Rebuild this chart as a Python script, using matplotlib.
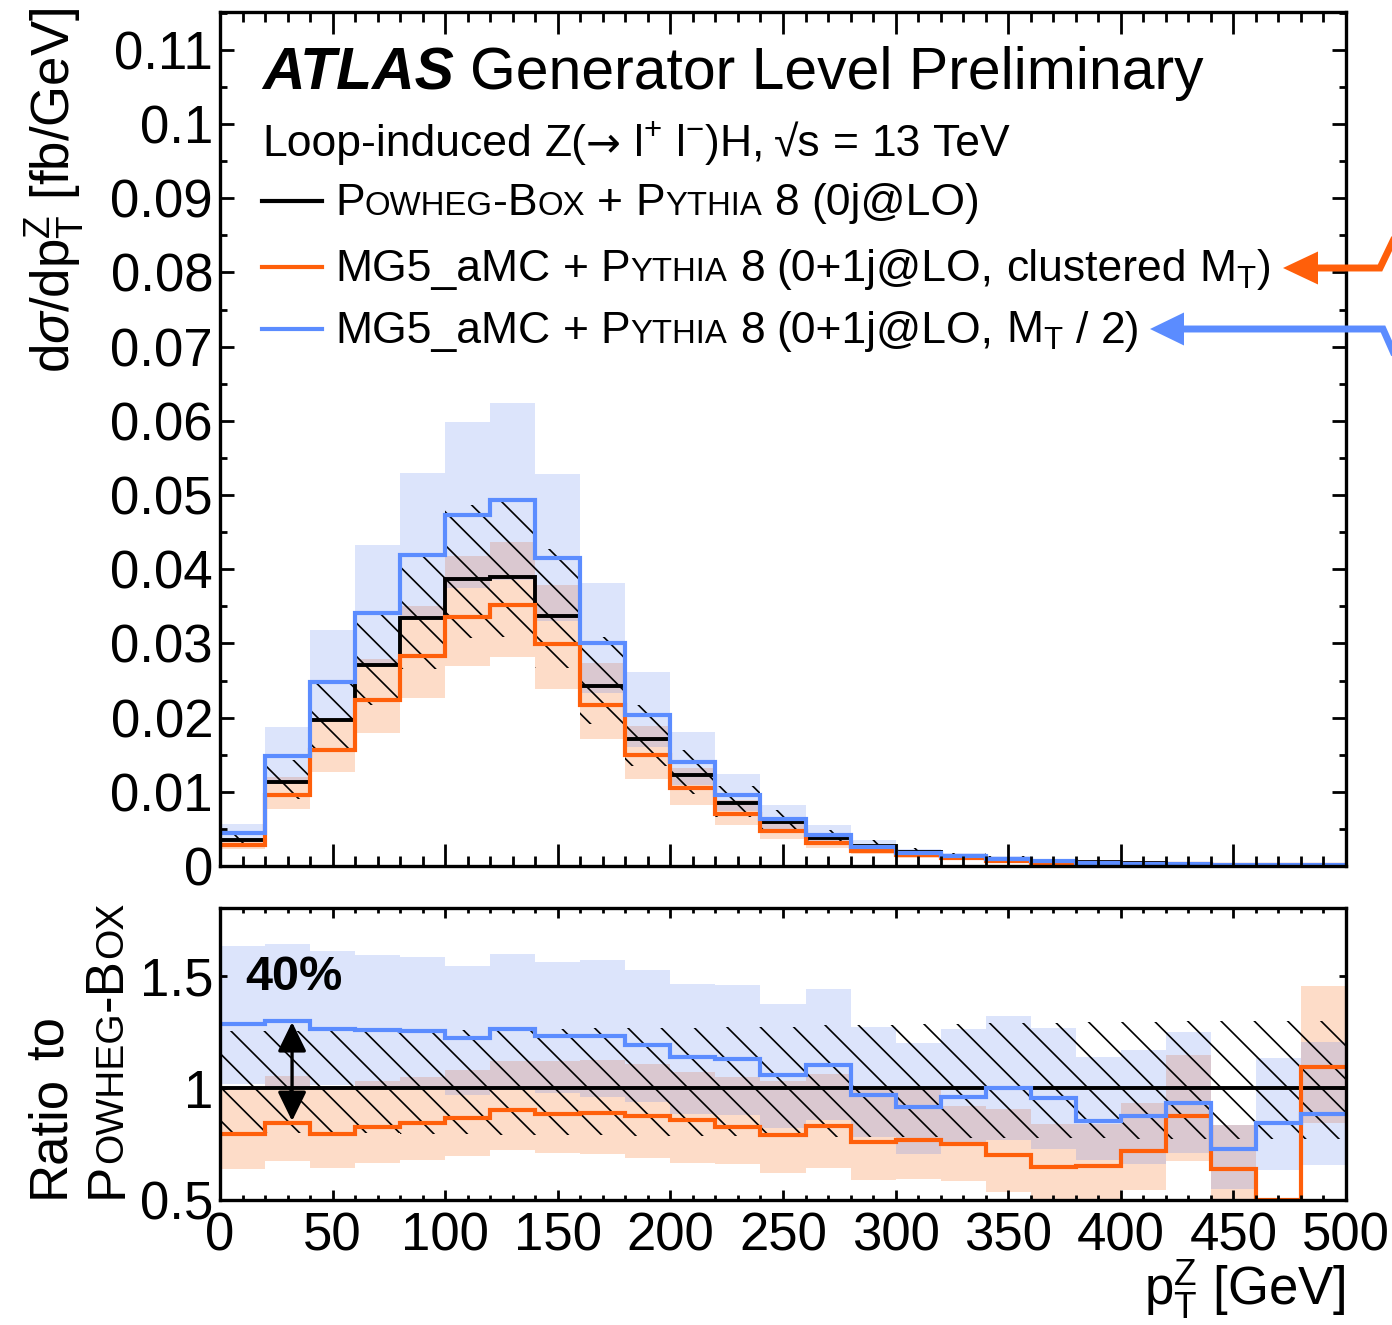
import re
import numpy as np
import matplotlib
matplotlib.use('Agg')
import matplotlib.pyplot as plt
from matplotlib.font_manager import FontProperties
from matplotlib.transforms import offset_copy
from matplotlib.lines import Line2D
from matplotlib.patches import Polygon
from matplotlib.ticker import MultipleLocator, FuncFormatter

plt.rcParams['font.family'] = ['Liberation Sans', 'DejaVu Sans']
plt.rcParams['mathtext.fontset'] = 'custom'
plt.rcParams['mathtext.rm'] = 'Liberation Sans'
plt.rcParams['mathtext.it'] = 'Liberation Sans:italic'
plt.rcParams['mathtext.bf'] = 'Liberation Sans:bold'
plt.rcParams['hatch.linewidth'] = 0.6

# pT(Z) bins, 20 GeV wide
edges = np.arange(0, 520, 20)

# POWHEG-BOX nominal dsigma/dpT [fb/GeV]
powheg = np.array([0.0035, 0.01137, 0.01968, 0.02709, 0.03338, 0.03863, 0.0390,
                   0.03373, 0.0243, 0.0171, 0.0123, 0.00847, 0.00595, 0.0038,
                   0.0027, 0.0019, 0.00135, 0.0010, 0.00072, 0.00052, 0.00038,
                   0.00028, 0.0002, 0.00015, 0.00011])
# POWHEG scale band (relative)
powheg_up = np.array([1.255, 1.255, 1.255, 1.26, 1.26, 1.26, 1.265, 1.265, 1.27,
                      1.27, 1.27, 1.275, 1.275, 1.28, 1.28, 1.285, 1.285, 1.29,
                      1.29, 1.295, 1.295, 1.30, 1.30, 1.30, 1.30])
powheg_dn = np.array([0.80, 0.80, 0.80, 0.80, 0.795, 0.795, 0.79, 0.79, 0.79,
                      0.785, 0.785, 0.785, 0.78, 0.78, 0.78, 0.78, 0.775, 0.775,
                      0.775, 0.775, 0.773, 0.773, 0.773, 0.773, 0.773])

# MG5_aMC, clustered M_T : ratio to POWHEG and band
orange_ratio = np.array([0.795, 0.846, 0.797, 0.828, 0.846, 0.868, 0.903, 0.886,
                         0.891, 0.874, 0.857, 0.828, 0.792, 0.83, 0.758, 0.768,
                         0.752, 0.702, 0.647, 0.652, 0.717, 0.875, 0.637, 0.5, 1.094])
orange_up = np.array([1.0, 1.053, 1.0, 1.03, 1.05, 1.08, 1.121, 1.121, 1.124, 1.106,
                      1.071, 1.05, 1.03, 1.061, 0.99, 1.0, 0.92, 0.906, 0.838,
                      0.84, 0.932, 1.147, 0.836, 0.49, 1.455])
orange_dn = np.array([0.64, 0.674, 0.644, 0.664, 0.679, 0.697, 0.723, 0.709, 0.705,
                      0.686, 0.667, 0.659, 0.621, 0.644, 0.591, 0.594, 0.583, 0.535,
                      0.497, 0.5, 0.545, 0.674, 0.48, 0.38, 0.845])

# MG5_aMC, M_T / 2 : ratio to POWHEG and band
blue_ratio = np.array([1.288, 1.299, 1.262, 1.26, 1.257, 1.223, 1.266, 1.232, 1.235,
                       1.193, 1.141, 1.132, 1.058, 1.103, 0.97, 0.914, 0.962, 1.0,
                       0.957, 0.855, 0.876, 0.935, 0.727, 0.843, 0.884])
blue_up = np.array([1.635, 1.645, 1.615, 1.595, 1.587, 1.548, 1.6, 1.565, 1.572,
                    1.53, 1.465, 1.462, 1.378, 1.445, 1.273, 1.203, 1.265, 1.322,
                    1.27, 1.14, 1.172, 1.252, 0.836, 1.134, 1.206])
blue_dn = np.array([1.02, 1.0, 1.015, 1.0, 0.995, 0.97, 0.99, 0.977, 0.962, 0.939,
                    0.886, 0.879, 0.821, 0.859, 0.78, 0.705, 0.758, 0.767, 0.727,
                    0.68, 0.662, 0.708, 0.55, 0.636, 0.656])

C_BLUE = '#5b8cff'
C_ORANGE = '#ff5f0a'
C_BLUE_BAND = '#dce4fb'
C_ORANGE_BAND = '#fddcc8'
C_OVERLAP = '#dac8d0'

W, H = 1392, 1325
fig = plt.figure(figsize=(W / 200, H / 200), dpi=200)
ax1 = fig.add_axes([220 / W, 1 - 866 / H, 1126 / W, 854 / H])
ax2 = fig.add_axes([220 / W, 1 - 1200 / H, 1126 / W, 292 / H])
renderer = fig.canvas.get_renderer()


def draw_bands(ax, scale):
    ov_lo = np.maximum(blue_dn, orange_dn)
    ov_hi = np.maximum(np.minimum(blue_up, orange_up), ov_lo)
    ax.stairs(blue_up * scale, edges, baseline=blue_dn * scale, fill=True,
              color=C_BLUE_BAND, lw=0)
    ax.stairs(orange_up * scale, edges, baseline=orange_dn * scale, fill=True,
              color=C_ORANGE_BAND, lw=0)
    ax.stairs(ov_hi * scale, edges, baseline=ov_lo * scale, fill=True,
              color=C_OVERLAP, lw=0)
    ax.stairs(powheg_up * scale, edges, baseline=powheg_dn * scale, fill=True,
              facecolor='none', edgecolor='k', hatch='\\\\', lw=0)
    ax.stairs(np.ones_like(scale) * scale, edges, baseline=None, color='k', lw=1.4)
    ax.stairs(orange_ratio * scale, edges, baseline=None, color=C_ORANGE, lw=1.5)
    ax.stairs(blue_ratio * scale, edges, baseline=None, color=C_BLUE, lw=1.5)


draw_bands(ax1, powheg)
draw_bands(ax2, np.ones_like(powheg))

fmt = FuncFormatter(lambda v, p: '%g' % round(v, 4))
for ax in (ax1, ax2):
    ax.set_xlim(0, 500)
    ax.xaxis.set_major_locator(MultipleLocator(50))
    ax.xaxis.set_minor_locator(MultipleLocator(10))
    ax.tick_params(which='both', direction='in', top=True, right=True,
                   width=1.0, labelsize=19, pad=2.5)
    ax.yaxis.set_major_formatter(fmt)
    for sp in ax.spines.values():
        sp.set_linewidth(1.2)

ax1.set_ylim(0, 0.1151)
ax1.yaxis.set_major_locator(MultipleLocator(0.01))
ax1.yaxis.set_minor_locator(MultipleLocator(0.005))
ax1.tick_params(axis='x', which='major', length=7.9, labelbottom=False)
ax1.tick_params(axis='x', which='minor', length=3.6)
ax1.tick_params(axis='y', which='major', length=5)
ax1.tick_params(axis='y', which='minor', length=2.5)

ax2.set_ylim(0.5, 1.805)
ax2.yaxis.set_major_locator(MultipleLocator(0.5))
ax2.tick_params(axis='x', which='major', length=3.6, pad=4)
ax2.tick_params(axis='x', which='minor', length=1.8)
ax2.tick_params(axis='y', which='major', length=2.5)
ax2.xaxis.set_major_formatter(fmt)

SC = 0.74
FAMILY = ['Liberation Sans', 'DejaVu Sans']


def text_width(s, prop):
    if s.isspace():
        a = renderer.get_text_width_height_descent('a' + s + 'a', prop, ismath=False)[0]
        b = renderer.get_text_width_height_descent('aa', prop, ismath=False)[0]
        return a - b
    return renderer.get_text_width_height_descent(s, prop, ismath='$' in s)[0]


def build_runs(spec, size, **kw):
    runs = []
    for s, mode in spec:
        for tok in re.split(r'( +)', s):
            if tok == '':
                continue
            if mode == 'sc' and not tok.isspace():
                for m in re.finditer(r'[a-z]+|[^a-z]+', tok):
                    seg = m.group()
                    if seg.islower():
                        runs.append((seg.upper(), size * SC, kw))
                    else:
                        runs.append((seg, size, kw))
            else:
                runs.append((tok, size, kw))
    return runs


def draw_runs(x_px, y_px, runs, rotation=0, color='k'):
    off = 0.0
    for s, size, kw in runs:
        prop = FontProperties(family=kw.get('family', FAMILY), size=size,
                              weight=kw.get('weight', 'normal'),
                              style=kw.get('style', 'normal'))
        w = text_width(s, prop)
        if not s.isspace():
            dx, dy = (off, 0) if rotation == 0 else (0, off)
            tr = offset_copy(fig.transFigure, fig=fig, x=dx, y=dy, units='dots')
            fig.text(x_px / W, 1 - y_px / H, s, fontproperties=prop, color=color,
                     rotation=rotation, rotation_mode='anchor', ha='left',
                     va='baseline', transform=tr)
        off += w
    return off


# header
draw_runs(262, 89, [('ATLAS', 21.2, {'weight': 'bold', 'style': 'italic'}),
                    (' ', 21.2, {}), ('Generator Level Preliminary', 21.2, {})])
loop_runs = (build_runs([('Loop-induced Z(', 'n')], 16)
             + [('\u2192', 15, {'family': 'DejaVu Sans'})]
             + build_runs([(' l$^{+}$ l$^{-}$)H, \u221as = 13 TeV', 'n')], 16))
draw_runs(262, 156, loop_runs)

# legend
leg_size = 16
leg_rows = [
    ('k', 201, 215, [('Powheg-Box', 'sc'), (' + ', 'n'), ('Pythia', 'sc'),
                     (' 8 (0j@LO)', 'n')]),
    (C_ORANGE, 267, 281, [('MG5_aMC + ', 'n'), ('Pythia', 'sc'),
                          (' 8 (0+1j@LO, clustered M$_{\\mathrm{T}}$)', 'n')]),
    (C_BLUE, 329, 343, [('MG5_aMC + ', 'n'), ('Pythia', 'sc'),
                        (' 8 (0+1j@LO, M$_{\\mathrm{T}}$ / 2)', 'n')]),
]
for col, ly, ty, spec in leg_rows:
    fig.add_artist(Line2D([262 / W, 322 / W], [1 - ly / H] * 2, color=col, lw=1.5,
                          transform=fig.transFigure))
    draw_runs(335, ty, build_runs(spec, leg_size))

# arrows at the right edge
arrow_specs = [(C_ORANGE, 268, 1283, 1318, 1380, 243),
               (C_BLUE, 329, 1150, 1184, 1383, 352)]
for col, ay, tip, base, bend, yend in arrow_specs:
    fig.add_artist(Line2D([base / W, bend / W, 1400 / W],
                          [1 - ay / H, 1 - ay / H, 1 - (yend + (yend - ay) * 8 / 12) / H],
                          color=col, lw=2.5, transform=fig.transFigure,
                          solid_joinstyle='miter'))
    fig.add_artist(Polygon([[tip / W, 1 - ay / H], [base / W, 1 - (ay - 16.5) / H],
                            [base / W, 1 - (ay + 16.5) / H]], closed=True,
                           color=col, lw=0, transform=fig.transFigure))

# y labels
fig.text(70 / W, 1 - 8 / H, r'd$\sigma$/dp$_{\mathrm{T}}^{\mathrm{Z}}$ [fb/GeV]',
         fontsize=19, rotation=90, rotation_mode='anchor', ha='right', va='baseline')
draw_runs(63, 1198, build_runs([('Ratio to', 'n')], 19), rotation=90)
draw_runs(122, 1198, build_runs([('Powheg-Box', 'sc')], 19), rotation=90)

# x label
fig.text(1346 / W, 1 - 1305 / H, r'p$_{\mathrm{T}}^{\mathrm{Z}}$ [GeV]', fontsize=19,
         ha='right', va='baseline')

# 40% annotation in ratio panel
ax2.text(11, 1.44, '40%', fontsize=17.5, fontweight='bold', va='baseline')
ax2.annotate('', xy=(32, 0.853), xytext=(32, 1.295),
             arrowprops=dict(arrowstyle='<|-|>,head_length=0.45,head_width=0.22',
                             lw=1.2, color='k', shrinkA=0, shrinkB=0,
                             mutation_scale=20))

fig.savefig('out.png', dpi=200)
